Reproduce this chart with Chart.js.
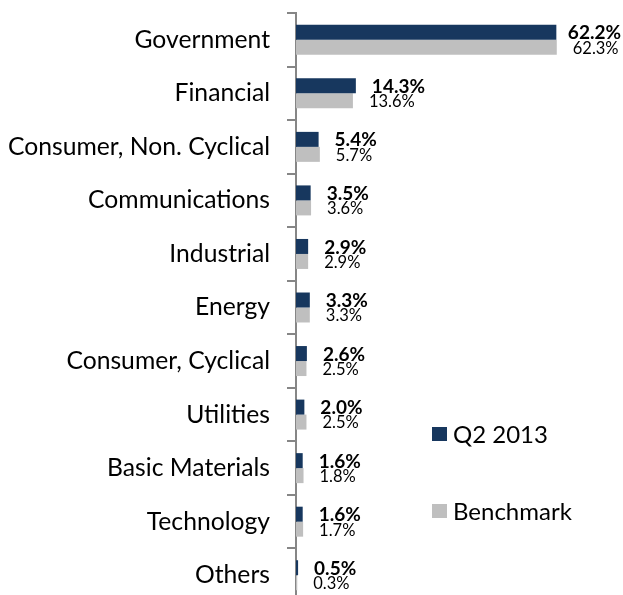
<!DOCTYPE html>
<html>
<head>
<meta charset="utf-8">
<script src="https://cdn.jsdelivr.net/npm/chart.js@4.4.1/dist/chart.umd.min.js"></script>
<style>
  html, body { margin: 0; padding: 0; background: #fff; overflow: hidden; }
  /* the plot runs a few pixels past the bottom edge in the original */
  #wrap { width: 623px; height: 602px; position: relative; }
</style>
</head>
<body>
<div id="wrap"><canvas id="chart"></canvas></div>
<script>
const categories = [
  "Government", "Financial", "Consumer, Non. Cyclical", "Communications",
  "Industrial", "Energy", "Consumer, Cyclical", "Utilities",
  "Basic Materials", "Technology", "Others"
];
const q2Values = [62.2, 14.3, 5.4, 3.5, 2.9, 3.3, 2.6, 2.0, 1.6, 1.6, 0.5];
const benchmarkValues = [62.3, 13.6, 5.7, 3.6, 2.9, 3.3, 2.5, 2.5, 1.8, 1.7, 0.3];
const seriesNames = ["Q2 2013", "Benchmark"];

const NAVY = "#17375E";
const GRAY = "#BFBFBF";
const FONT = "Lato, 'Open Sans', sans-serif";

// value labels to the right of each bar, bold for Q2, regular for benchmark
const barLabels = {
  id: "barLabels",
  afterDatasetsDraw(chart) {
    const ctx = chart.ctx;
    ctx.save();
    ctx.textBaseline = "middle";
    ctx.textAlign = "left";
    ctx.fillStyle = "#000";
    chart.data.datasets.forEach((ds, i) => {
      ctx.font = i === 0 ? `bold 19px ${FONT}` : `16.5px ${FONT}`;
      chart.getDatasetMeta(i).data.forEach((bar, j) => {
        const text = ds.data[j].toFixed(1) + "%";
        const w = ctx.measureText(text).width;
        let x = bar.x + 16;
        if (x + w > chart.width - 2) x = chart.width - 2 - w;
        ctx.fillText(text, x, bar.y + 1);
      });
    });
    ctx.restore();
  }
};

// legend in the lower right
const sideLegend = {
  id: "sideLegend",
  afterDraw(chart) {
    const ctx = chart.ctx;
    ctx.save();
    ctx.font = `24px ${FONT}`;
    ctx.textBaseline = "middle";
    chart.data.datasets.forEach((ds, i) => {
      const y = 434 + i * 77;
      ctx.fillStyle = ds.backgroundColor;
      ctx.fillRect(432, y - 7, 15, 14);
      ctx.fillStyle = "#000";
      ctx.fillText(ds.label, 453, y + 1);
    });
    ctx.restore();
  }
};

new Chart(document.getElementById("chart"), {
  type: "bar",
  data: {
    labels: categories,
    datasets: [
      { label: seriesNames[0], data: q2Values, backgroundColor: NAVY },
      { label: seriesNames[1], data: benchmarkValues, backgroundColor: GRAY }
    ]
  },
  options: {
    responsive: true,
    maintainAspectRatio: false,
    animation: false,
    indexAxis: "y",
    layout: { padding: { top: 13, bottom: 0, right: 34, left: 0 } },
    datasets: { bar: { categoryPercentage: 0.56, barPercentage: 1.0 } },
    scales: {
      x: { display: false, min: 0, max: 70 },
      y: {
        afterFit(scale) {
          scale.width = 296;
          scale.paddingTop = 0;
          scale.paddingBottom = 0;
        },
        border: { display: true, color: "#868686", width: 2 },
        grid: {
          offset: true,
          drawOnChartArea: false,
          drawTicks: true,
          tickLength: 9,
          color: "#868686",
          lineWidth: 2
        },
        ticks: {
          color: "#000",
          padding: 17,
          font: { family: FONT, size: 24.7 }
        }
      }
    },
    plugins: { legend: { display: false }, tooltip: { enabled: false } }
  },
  plugins: [barLabels, sideLegend]
});
</script>
</body>
</html>
